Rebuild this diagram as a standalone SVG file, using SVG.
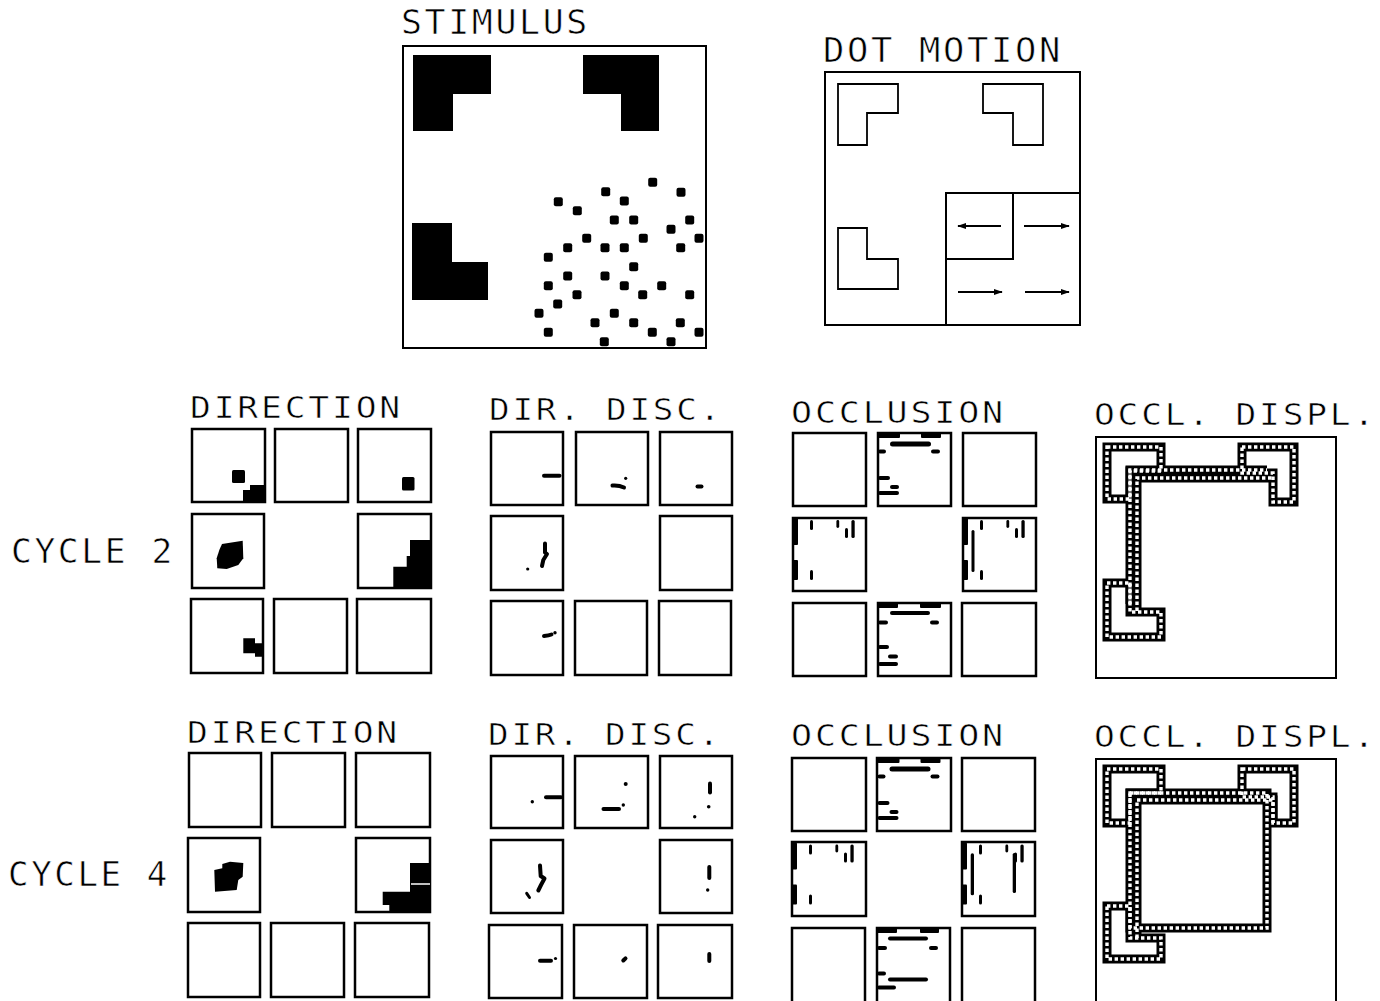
<svg xmlns="http://www.w3.org/2000/svg" xmlns:xlink="http://www.w3.org/1999/xlink" width="1380" height="1001" viewBox="0 0 1380 1001">
<style>
text{font-family:"DejaVu Sans Mono","Liberation Mono",monospace;fill:#000;stroke:#fff;stroke-width:0.6;letter-spacing:2.5px;}
.t1{font-size:33px;}
.t2{font-size:31px;}
.box{fill:none;stroke:#000;stroke-width:2;}
.cell{fill:none;stroke:#000;stroke-width:2.5;}
.blk{fill:#000;stroke:none;}
.dot{fill:#000;}
.ln{fill:none;stroke:#000;stroke-width:1.8;}
.mk{fill:none;stroke:#000;stroke-width:4;stroke-linecap:round;stroke-linejoin:round;}
.mkt{fill:none;stroke:#000;stroke-width:3;stroke-linecap:round;}
.sb{fill:none;stroke:#000;stroke-width:9;stroke-linejoin:miter;}
.sw{fill:none;stroke:#fff;stroke-width:3.4;stroke-dasharray:3.4 2.6;}
</style>
<defs>
<marker id="ah" viewBox="0 0 10 10" refX="9" refY="5" markerWidth="5" markerHeight="5" orient="auto">
<path d="M0,1.5 L10,5 L0,8.5 Z" fill="#000"/>
</marker>
<rect id="d" x="-4.5" y="-4.5" width="9" height="9" rx="2"/>
<g id="occTop">
<rect x="0" y="0" width="22" height="5" rx="1"/>
<rect x="43" y="0" width="20" height="5" rx="1"/>
<rect x="12" y="8.5" width="41" height="5" rx="2.5"/>
<rect x="53" y="16.5" width="9" height="4" rx="2"/>
<rect x="0" y="16.5" width="8" height="4" rx="2"/>
<rect x="0" y="43" width="12" height="4" rx="2"/>
<rect x="12" y="52" width="9" height="4" rx="2"/>
<rect x="0" y="58" width="21" height="4" rx="2"/>
</g>
<g id="occSide">
<rect x="0" y="0" width="5" height="27" rx="1"/>
<rect x="0" y="42" width="5" height="20" rx="1"/>
<rect x="17" y="2" width="3" height="10" rx="1.5"/>
<rect x="17" y="52" width="3" height="10" rx="1.5"/>
<rect x="43.4" y="2" width="2.8" height="8" rx="1.4"/>
<rect x="52" y="10" width="3" height="10" rx="1.5"/>
<rect x="58.4" y="2" width="3.3" height="18" rx="1.6"/>
</g>
</defs>

<g id="stimulus">
<text class="t1" x="401" y="34" textLength="189" lengthAdjust="spacingAndGlyphs">STIMULUS</text>
<rect class="box" x="403" y="46" width="303" height="302"/>
<path class="blk" d="M413,55 H491 V94 H453 V131 H413 Z"/>
<path class="blk" d="M583,55 H659 V131 H621 V94 H583 Z"/>
<path class="blk" d="M412,223 H452 V262 H488 V300 H412 Z"/>
<g class="dot">
<use xlink:href="#d" x="652.7" y="182.3"/><use xlink:href="#d" x="605.7" y="191.7"/><use xlink:href="#d" x="681" y="192.3"/>
<use xlink:href="#d" x="558.3" y="201.7"/><use xlink:href="#d" x="624.3" y="201"/><use xlink:href="#d" x="577.3" y="210.7"/>
<use xlink:href="#d" x="614.3" y="220"/><use xlink:href="#d" x="633.7" y="220"/><use xlink:href="#d" x="689.7" y="220"/>
<use xlink:href="#d" x="671" y="229.3"/><use xlink:href="#d" x="586.7" y="238.3"/><use xlink:href="#d" x="643.3" y="238.3"/>
<use xlink:href="#d" x="699" y="238.3"/><use xlink:href="#d" x="567.7" y="247.7"/><use xlink:href="#d" x="605" y="247.7"/>
<use xlink:href="#d" x="624.3" y="247.7"/><use xlink:href="#d" x="680.7" y="247.7"/><use xlink:href="#d" x="548.3" y="257.3"/>
<use xlink:href="#d" x="633.7" y="266.7"/><use xlink:href="#d" x="567.7" y="276"/><use xlink:href="#d" x="605" y="276"/>
<use xlink:href="#d" x="548.3" y="285.7"/><use xlink:href="#d" x="624.3" y="285.7"/><use xlink:href="#d" x="661.7" y="285.7"/>
<use xlink:href="#d" x="577" y="294.7"/><use xlink:href="#d" x="642.7" y="294.7"/><use xlink:href="#d" x="689.7" y="294.7"/>
<use xlink:href="#d" x="557.7" y="304"/><use xlink:href="#d" x="539" y="313.3"/><use xlink:href="#d" x="614.3" y="313.3"/>
<use xlink:href="#d" x="595" y="322.7"/><use xlink:href="#d" x="633.7" y="322.7"/><use xlink:href="#d" x="680.3" y="322.7"/>
<use xlink:href="#d" x="548.3" y="332.3"/><use xlink:href="#d" x="652.3" y="332.3"/><use xlink:href="#d" x="699" y="332.3"/>
<use xlink:href="#d" x="604.3" y="341.7"/><use xlink:href="#d" x="671" y="341.7"/>
</g>
</g>

<g id="dot-motion">
<text class="t1" x="823" y="62" textLength="240" lengthAdjust="spacingAndGlyphs">DOT MOTION</text>
<rect class="box" x="825" y="72" width="255" height="253"/>
<path class="ln" d="M838,84 H898 V113 H867 V145 H838 Z"/>
<path class="ln" d="M983,84 H1043 V145 H1013 V113 H983 Z"/>
<path class="ln" d="M838,228 H867 V259 H898 V289 H838 Z"/>
<path class="box" d="M946,325 V193 H1080 M1013,193 V259 H946"/>
<g class="ln">
<path d="M1001,226 H958" marker-end="url(#ah)"/>
<path d="M1024,226 H1069" marker-end="url(#ah)"/>
<path d="M958,292 H1002" marker-end="url(#ah)"/>
<path d="M1025,292 H1069" marker-end="url(#ah)"/>
</g>
</g>

<g id="cycle-labels">
<text class="t1" x="11" y="563" textLength="164" lengthAdjust="spacingAndGlyphs">CYCLE 2</text>
<text class="t1" x="8" y="886" textLength="162" lengthAdjust="spacingAndGlyphs">CYCLE 4</text>
</g>

<g id="direction-c2">
<text class="t2" x="190" y="418" textLength="213" lengthAdjust="spacingAndGlyphs">DIRECTION</text>
<rect class="cell" x="192" y="429" width="73" height="73"/>
<rect class="cell" x="275" y="429" width="73" height="73"/>
<rect class="cell" x="358" y="429" width="73" height="73"/>
<rect class="cell" x="192" y="514" width="72" height="74"/>
<rect class="cell" x="358" y="514" width="73" height="74"/>
<rect class="cell" x="191" y="599" width="72" height="74"/>
<rect class="cell" x="274" y="599" width="73" height="74"/>
<rect class="cell" x="357" y="599" width="74" height="74"/>
<rect class="blk" x="232" y="470" width="13" height="13" rx="1.5"/>
<path class="blk" d="M250,485 H264 V502 H243 V490 H250 Z"/>
<rect class="blk" x="402" y="477" width="12.5" height="13.5" rx="1.5"/>
<path class="blk" d="M222,544 L242.7,540.7 L243.3,558.3 L238.3,565 L226.7,569 L217.3,568.3 L216.7,558.3 L219.3,550 Z"/>
<path class="blk" d="M410,540 H431.7 V588.3 H393.3 V566.7 H406.7 V556 H410 Z"/>
<path class="blk" d="M243.3,638.3 H255 V643.3 H262.5 V656.7 H255 V653.3 H243.3 Z"/>
</g>

<g id="dir-disc-c2">
<text class="t2" x="489" y="420" textLength="234" lengthAdjust="spacingAndGlyphs">DIR. DISC.</text>
<rect class="cell" x="491" y="432" width="72" height="73"/>
<rect class="cell" x="576" y="432" width="72" height="73"/>
<rect class="cell" x="660" y="432" width="72" height="73"/>
<rect class="cell" x="491" y="516" width="72" height="74"/>
<rect class="cell" x="660" y="516" width="72" height="74"/>
<rect class="cell" x="491" y="601" width="72" height="74"/>
<rect class="cell" x="575" y="601" width="72" height="74"/>
<rect class="cell" x="659" y="601" width="72" height="74"/>
<path class="mk" d="M544,475.7 H559.5"/>
<path class="mk" d="M612.5,485.5 Q619,485 624,487.5"/>
<circle class="blk" cx="625.7" cy="478.3" r="1.6"/>
<path class="mk" d="M697.5,486.5 H701.5"/>
<path class="mk" d="M545,543.5 V552.5 L547,554 L543.3,560 L542,566"/>
<circle class="blk" cx="527.7" cy="569" r="1.6"/>
<path class="mk" d="M544,636 Q549,635.5 551.5,634.5"/>
<circle class="blk" cx="555" cy="632.7" r="1.7"/>
</g>

<g id="occlusion-c2">
<text class="t2" x="791" y="423" textLength="215" lengthAdjust="spacingAndGlyphs">OCCLUSION</text>
<rect class="cell" x="793" y="433" width="73" height="73"/>
<rect class="cell" x="878" y="433" width="73" height="73"/>
<rect class="cell" x="963" y="433" width="73" height="73"/>
<rect class="cell" x="793" y="518" width="73" height="73"/>
<rect class="cell" x="963" y="518" width="73" height="73"/>
<rect class="cell" x="793" y="603" width="73" height="73"/>
<rect class="cell" x="878" y="603" width="73" height="73"/>
<rect class="cell" x="962" y="603" width="74" height="73"/>
<use xlink:href="#occTop" x="878" y="433"/>
<use xlink:href="#occSide" x="793" y="518"/>
<use xlink:href="#occSide" x="963" y="518"/>
<rect class="blk" x="971.5" y="530" width="3" height="42" rx="1.5"/>
<g transform="translate(878,603)">
<rect x="0" y="0" width="20" height="5" rx="1"/>
<rect x="42" y="0" width="21" height="5" rx="1"/>
<rect x="12" y="8" width="40" height="4" rx="2"/>
<rect x="0" y="17.5" width="10" height="4" rx="2"/>
<rect x="52" y="17.5" width="9" height="4" rx="2"/>
<rect x="0" y="42" width="11" height="4" rx="2"/>
<rect x="10" y="51.5" width="10" height="4" rx="2"/>
<rect x="0" y="59" width="20" height="4" rx="2"/>
</g>
</g>

<g id="occl-displ-c2">
<text class="t2" x="1094" y="425" textLength="283" lengthAdjust="spacingAndGlyphs">OCCL. DISPL.</text>
<rect class="box" x="1096" y="437" width="240" height="241"/>
<g class="sb">
<path d="M1107,447 H1161 V471 H1130 V499 H1107 Z"/>
<path d="M1242,447 H1294 V502 H1273 V473 H1242 Z"/>
<path d="M1107,583 H1130 V612 H1161 V637 H1107 Z"/>
<path d="M1130,604 V470 H1267"/>
<path d="M1137,611 V478 H1273"/>
</g>
<g class="sw">
<path d="M1107,447 H1161 V471 H1130 V499 H1107 Z"/>
<path d="M1242,447 H1294 V502 H1273 V473 H1242 Z"/>
<path d="M1107,583 H1130 V612 H1161 V637 H1107 Z"/>
<path d="M1130,604 V470 H1267"/>
<path d="M1137,611 V478 H1273"/>
</g>
</g>

<g id="direction-c4">
<text class="t2" x="187" y="743" textLength="213" lengthAdjust="spacingAndGlyphs">DIRECTION</text>
<rect class="cell" x="189" y="753" width="72" height="74"/>
<rect class="cell" x="272" y="753" width="73" height="74"/>
<rect class="cell" x="356" y="753" width="74" height="74"/>
<rect class="cell" x="188" y="838" width="72" height="74"/>
<rect class="cell" x="356" y="838" width="74" height="74"/>
<rect class="cell" x="188" y="923" width="72" height="74"/>
<rect class="cell" x="271" y="923" width="73" height="74"/>
<rect class="cell" x="355" y="923" width="74" height="74"/>
<path class="blk" d="M222.3,864 L230,861.7 L243.3,863 L242.7,876.7 L238.3,880 L236.7,890 L215,891.7 L214.3,870 L222.3,868.3 Z"/>
<path class="blk" d="M410,863 H430 V912.5 H389.3 V905 H382.7 V891.7 H410 Z"/>
<path d="M411,884 H430" stroke="#fff" stroke-width="1.5"/>
</g>

<g id="dir-disc-c4">
<text class="t2" x="488" y="745" textLength="234" lengthAdjust="spacingAndGlyphs">DIR. DISC.</text>
<rect class="cell" x="491" y="756" width="72" height="72"/>
<rect class="cell" x="575" y="756" width="73" height="72"/>
<rect class="cell" x="660" y="756" width="72" height="72"/>
<rect class="cell" x="491" y="840" width="72" height="73"/>
<rect class="cell" x="660" y="840" width="72" height="73"/>
<rect class="cell" x="489" y="925" width="73" height="73"/>
<rect class="cell" x="574" y="925" width="73" height="73"/>
<rect class="cell" x="658" y="925" width="74" height="73"/>
<circle class="blk" cx="532.3" cy="801.7" r="1.7"/>
<path class="mk" d="M546,797.3 H561"/>
<circle class="blk" cx="625.7" cy="784" r="2"/>
<path class="mk" d="M603.5,809 H619"/>
<circle class="blk" cx="623.3" cy="805" r="1.7"/>
<path class="mk" d="M710,783.5 V792.5"/>
<circle class="blk" cx="708.7" cy="806.7" r="1.8"/>
<circle class="blk" cx="694.7" cy="816.7" r="1.7"/>
<path class="mk" d="M540,865.5 L540.7,876 L544.5,878.5 L541,885 L538.3,890.5"/>
<path class="mkt" d="M526.7,893.3 L529.5,897.5"/>
<path class="mk" d="M709.3,867 V878"/>
<circle class="blk" cx="707.7" cy="890" r="1.7"/>
<path class="mk" d="M540,960.7 H551"/>
<circle class="blk" cx="555.5" cy="958.5" r="1.6"/>
<path class="mk" d="M623.3,960.5 L625.5,958.3"/>
<path class="mk" d="M709.3,954 V961"/>
</g>

<g id="occlusion-c4">
<text class="t2" x="791" y="746" textLength="215" lengthAdjust="spacingAndGlyphs">OCCLUSION</text>
<rect class="cell" x="792" y="758" width="74" height="73"/>
<rect class="cell" x="877" y="758" width="74" height="73"/>
<rect class="cell" x="962" y="758" width="73" height="73"/>
<rect class="cell" x="792" y="842" width="74" height="74"/>
<rect class="cell" x="962" y="842" width="73" height="74"/>
<rect class="cell" x="792" y="928" width="73" height="80"/>
<rect class="cell" x="877" y="928" width="73" height="80"/>
<rect class="cell" x="962" y="928" width="73" height="80"/>
<use xlink:href="#occTop" x="877.5" y="758"/>
<use xlink:href="#occSide" x="792" y="842.5"/>
<use xlink:href="#occSide" x="962" y="842.5"/>
<rect class="blk" x="970.7" y="853.3" width="3.3" height="42" rx="1.6"/>
<rect class="blk" x="1012.7" y="853" width="3.3" height="40" rx="1.6"/>
<g transform="translate(877,928)">
<rect x="0" y="0" width="20" height="5" rx="1"/>
<rect x="43" y="0" width="19" height="5" rx="1"/>
<rect x="11" y="8.5" width="40" height="4" rx="2"/>
<rect x="0" y="18" width="10" height="4" rx="2"/>
<rect x="52" y="18" width="9" height="4" rx="2"/>
<rect x="0" y="43.5" width="9" height="4" rx="2"/>
<rect x="11" y="49.5" width="40" height="4" rx="2"/>
<rect x="0" y="57.5" width="19" height="4" rx="2"/>
</g>
</g>

<g id="occl-displ-c4">
<text class="t2" x="1094" y="747" textLength="283" lengthAdjust="spacingAndGlyphs">OCCL. DISPL.</text>
<path class="box" d="M1096,1003 V759 H1336 V1003"/>
<g class="sb">
<path d="M1107,769 H1161 V793 H1130 V823 H1107 Z"/>
<path d="M1242,769 H1294 V823 H1273 V797 H1242 Z"/>
<path d="M1107,906 H1130 V938 H1161 V959 H1107 Z"/>
<path d="M1130,793 H1267 V928 H1130 Z"/>
<path d="M1137,938 V800 H1273 V823"/>
</g>
<g class="sw">
<path d="M1107,769 H1161 V793 H1130 V823 H1107 Z"/>
<path d="M1242,769 H1294 V823 H1273 V797 H1242 Z"/>
<path d="M1107,906 H1130 V938 H1161 V959 H1107 Z"/>
<path d="M1130,793 H1267 V928 H1130 Z"/>
<path d="M1137,938 V800 H1273 V823"/>
</g>
</g>
</svg>
